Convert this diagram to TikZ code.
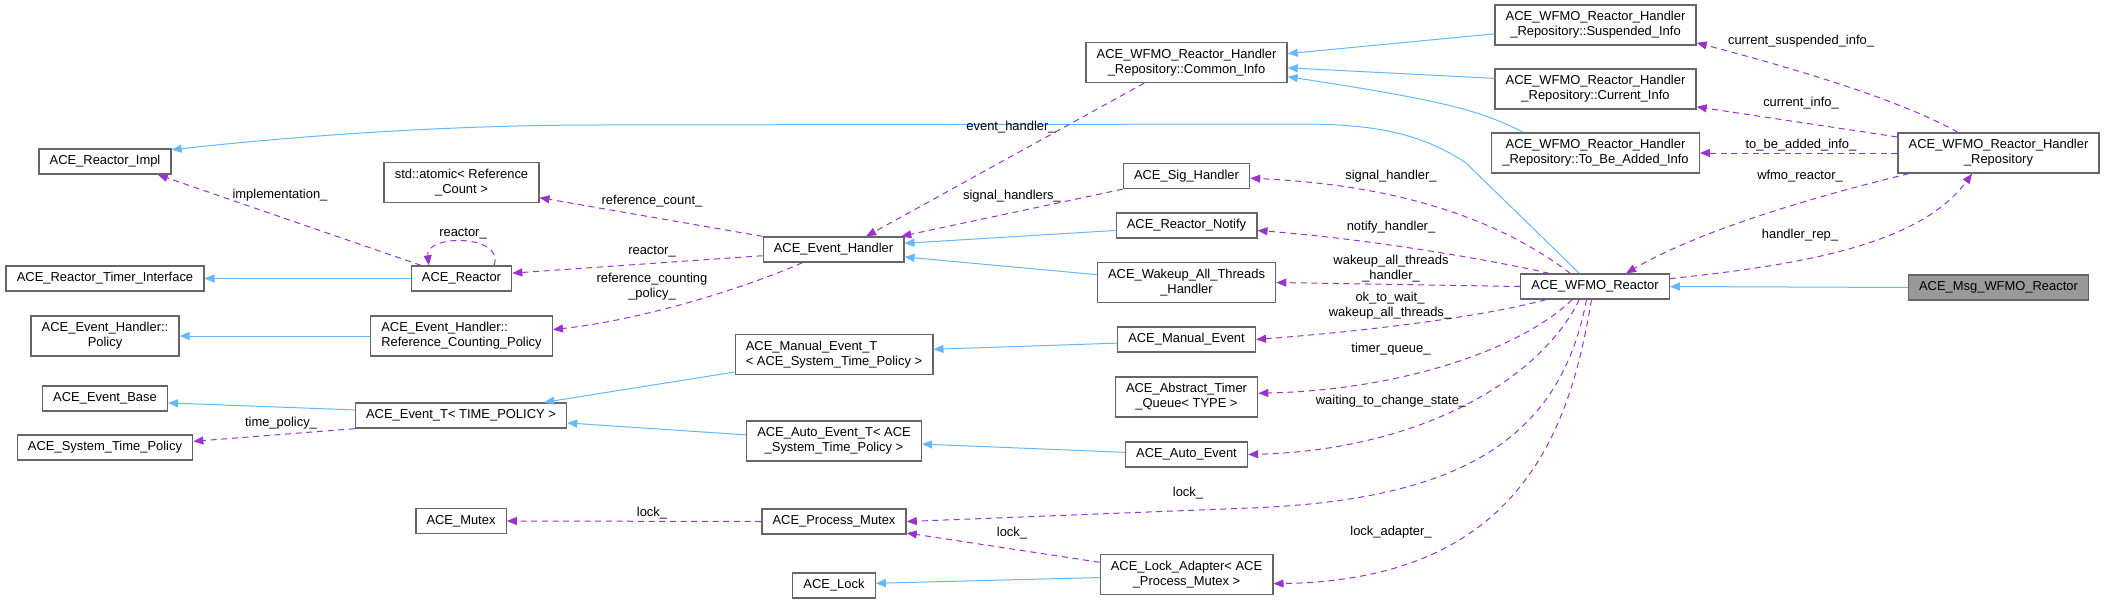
\documentclass[tikz,border=0pt]{standalone}
\usepackage{fontspec}
\setmainfont{Liberation Sans}
\usetikzlibrary{arrows.meta}

\definecolor{inhblue}{HTML}{63B8FF}
\definecolor{usepurple}{HTML}{9A32CD}
\definecolor{boxgray}{HTML}{666666}
\definecolor{focusfill}{HTML}{999999}

\tikzset{every picture/.style={line width=0.75pt}}

\begin{document}
\begin{tikzpicture}[x=0.75pt,y=0.75pt,yscale=-1,
  cls/.style={draw=boxgray,line width=1pt,fill=white,inner xsep=8pt,inner ysep=3pt,minimum height=18.75pt,font=\fontsize{9.7}{11.25}\selectfont,align=center},
  clstwo/.style={cls,minimum height=30pt},
  focus/.style={cls,fill=focusfill},
  inherit/.style={draw=inhblue,-{Triangle[length=7.5pt,width=6pt]}},
  uses/.style={draw=usepurple,dash pattern=on 4.5pt off 3.5pt,-{Triangle[length=7.5pt,width=6pt]}},
  lbl/.style={inner sep=0pt,font=\fontsize{9.7}{11.25}\selectfont,align=center}]
%set diagram size
\useasboundingbox (0,0) rectangle (2105,603);

% Text Node
\node[cls] (impl) at (105,161.5) {ACE\_Reactor\_Impl};
% Text Node
\node[cls] (timerif) at (105,278.5) {ACE\_Reactor\_Timer\_Interface};
% Text Node
\node[clstwo] (policy) at (105,336) {ACE\_Event\_Handler::\\Policy};
% Text Node
\node[cls] (eventbase) at (105,398.5) {ACE\_Event\_Base};
% Text Node
\node[cls] (stpolicy) at (105,447.5) {ACE\_System\_Time\_Policy};
% Text Node
\node[clstwo] (atomic) at (461.5,182.5) {std::atomic< Reference\\\_Count >};
% Text Node
\node[cls] (reactor) at (461.5,278.5) {ACE\_Reactor};
% Text Node
\node[clstwo,align=left] (rcpolicy) at (461.5,336) {ACE\_Event\_Handler::\\Reference\_Counting\_Policy};
% Text Node
\node[cls] (eventt) at (461,415.5) {ACE\_Event\_T< TIME\_POLICY >};
% Text Node
\node[cls] (mutex) at (461,521) {ACE\_Mutex};
% Text Node
\node[cls] (evhandler) at (833.5,249.5) {ACE\_Event\_Handler};
% Text Node
\node[clstwo,align=left] (manualt) at (834,354.5) {ACE\_Manual\_Event\_T\\< ACE\_System\_Time\_Policy >};
% Text Node
\node[clstwo] (autot) at (834,441) {ACE\_Auto\_Event\_T< ACE\\\_System\_Time\_Policy >};
% Text Node
\node[cls] (procmutex) at (834,521.5) {ACE\_Process\_Mutex};
% Text Node
\node[cls] (lock) at (834,585.5) {ACE\_Lock};
% Text Node
\node[clstwo] (commoninfo) at (1186.5,62.5) {ACE\_WFMO\_Reactor\_Handler\\\_Repository::Common\_Info};
% Text Node
\node[cls] (sighandler) at (1186.5,176) {ACE\_Sig\_Handler};
% Text Node
\node[cls] (notify) at (1186.5,225.5) {ACE\_Reactor\_Notify};
% Text Node
\node[clstwo] (wakeup) at (1186.5,282.5) {ACE\_Wakeup\_All\_Threads\\\_Handler};
% Text Node
\node[cls] (manualev) at (1186.5,339.5) {ACE\_Manual\_Event};
% Text Node
\node[clstwo] (timerq) at (1186.5,397) {ACE\_Abstract\_Timer\\\_Queue< TYPE >};
% Text Node
\node[cls] (autoev) at (1186.5,454.5) {ACE\_Auto\_Event};
% Text Node
\node[clstwo] (lockadapter) at (1186.5,574.5) {ACE\_Lock\_Adapter< ACE\\\_Process\_Mutex >};
% Text Node
\node[clstwo] (suspended) at (1595.5,25) {ACE\_WFMO\_Reactor\_Handler\\\_Repository::Suspended\_Info};
% Text Node
\node[clstwo] (current) at (1595.5,89) {ACE\_WFMO\_Reactor\_Handler\\\_Repository::Current\_Info};
% Text Node
\node[clstwo] (tobeadded) at (1595.5,153) {ACE\_WFMO\_Reactor\_Handler\\\_Repository::To\_Be\_Added\_Info};
% Text Node
\node[cls] (wfmo) at (1595,286.5) {ACE\_WFMO\_Reactor};
% Text Node
\node[clstwo] (handlerrep) at (1998.5,153) {ACE\_WFMO\_Reactor\_Handler\\\_Repository};
% Text Node
\node[focus] (msgwfmo) at (1998.5,287.5) {ACE\_Msg\_WFMO\_Reactor};

%Straight Lines
\draw[inherit] (reactor.west) -- (timerif.east);
%Straight Lines
\draw[inherit] (rcpolicy.west) -- (policy.east);
%Straight Lines
\draw[inherit] (eventt.177) -- (eventbase.-4);
%Straight Lines
\draw[inherit] (manualt.190) -- (eventt.9);
%Straight Lines
\draw[inherit] (autot.176) -- (eventt.-4.5);
%Straight Lines
\draw[inherit] (manualev.183) -- (manualt.3);
%Straight Lines
\draw[inherit] (autoev.178) -- (autot.-2);
%Straight Lines
\draw[inherit] (lockadapter.182) -- (lock.3);
%Straight Lines
\draw[inherit] (notify.184) -- (evhandler.5);
%Straight Lines
\draw[inherit] (wakeup.175) -- (evhandler.-6);
%Straight Lines
\draw[inherit] (suspended.185) -- (commoninfo.5);
%Straight Lines
\draw[inherit] (current.174) -- (commoninfo.-3);
%Curve Lines
\draw[inherit] (tobeadded.164) .. controls (1480,110) and (1440,100) .. (commoninfo.-8);
%Straight Lines
\draw[inherit] (msgwfmo.west) -- (wfmo.east);
%Curve Lines
\draw[inherit] (wfmo.140) -- (1466,163) .. controls (1420,132) and (1370,124) .. (1300,124) -- (600,125) .. controls (420,125) and (260,140) .. (impl.10);

%Straight Lines
\draw[uses] (reactor.162) -- (impl.-14);
%Curve Lines
\draw[uses] (reactor.22) .. controls (505,234) and (425,234) .. (reactor.158);
%Straight Lines
\draw[uses] (evhandler.north west) -- (atomic.-11);
%Straight Lines
\draw[uses] (evhandler.185) -- (reactor.6);
%Curve Lines
\draw[uses] (evhandler.203) .. controls (740,290) and (640,320) .. (rcpolicy.4);
%Straight Lines
\draw[uses] (commoninfo.206) -- (evhandler.22);
%Straight Lines
\draw[uses] (sighandler.south west) -- (evhandler.11);
%Straight Lines
\draw[uses] (eventt.south west) -- (stpolicy.4);
%Straight Lines
\draw[uses] (procmutex.west) -- (mutex.east);
%Straight Lines
\draw[uses] (lockadapter.172) -- (procmutex.-9);
%Curve Lines
\draw[uses] (wfmo.152) .. controls (1500,220) and (1400,185) .. (sighandler.-2);
%Curve Lines
\draw[uses] (wfmo.164) .. controls (1500,262) and (1380,240) .. (notify.-4);
%Straight Lines
\draw[uses] (wfmo.west) -- (wakeup.east);
%Curve Lines
\draw[uses] (wfmo.195) .. controls (1490,315) and (1380,330) .. (manualev.east);
%Curve Lines
\draw[uses] (wfmo.210) .. controls (1520,350) and (1400,390) .. (timerq.3);
%Curve Lines
\draw[uses] (wfmo.220) .. controls (1540,380) and (1420,450) .. (autoev.east);
%Curve Lines
\draw[uses] (wfmo.237) .. controls (1560,440) and (1460,500) .. (1250,508) -- (procmutex.east);
%Curve Lines
\draw[uses] (wfmo.255) .. controls (1570,430) and (1520,580) .. (lockadapter.-6);
%Curve Lines
\draw[uses] (handlerrep.153) .. controls (1900,100) and (1800,70) .. (suspended.-10);
%Straight Lines
\draw[uses] (handlerrep.171) -- (current.-10);
%Straight Lines
\draw[uses] (handlerrep.west) -- (tobeadded.east);
%Curve Lines
\draw[uses] (handlerrep.193) .. controls (1820,195) and (1700,230) .. (wfmo.23);
%Curve Lines
\draw[uses] (wfmo.6) .. controls (1800,265) and (1920,245) .. (handlerrep.218);

% Text Node
\node[lbl] (limpl) at (280,195) {implementation\_};
% Text Node
\node[lbl] (lreactorself) at (463,234) {reactor\_};
% Text Node
\node[lbl] (lrefcount) at (652,201) {reference\_count\_};
% Text Node
\node[lbl] (lreactor) at (652,252) {reactor\_};
% Text Node
\node[lbl] (lrcpolicy) at (652,287) {reference\_counting\\\_policy\_};
% Text Node
\node[lbl] (levhandler) at (1011,127) {event\_handler\_};
% Text Node
\node[lbl] (lsighandlers) at (1012,196) {signal\_handlers\_};
% Text Node
\node[lbl] (ltimepolicy) at (281,423) {time\_policy\_};
% Text Node
\node[lbl] (lmutex) at (652,513) {lock\_};
% Text Node
\node[lbl] (lprocmutex) at (1012,533) {lock\_};
% Text Node
\node[lbl] (lsighandler) at (1391,176) {signal\_handler\_};
% Text Node
\node[lbl] (lnotify) at (1391,227) {notify\_handler\_};
% Text Node
\node[lbl] (lwakeup) at (1391,268.5) {wakeup\_all\_threads\\\_handler\_};
% Text Node
\node[lbl] (lmanualev) at (1390,306) {ok\_to\_wait\_\\wakeup\_all\_threads\_};
% Text Node
\node[lbl] (ltimerq) at (1391,349) {timer\_queue\_};
% Text Node
\node[lbl] (lautoev) at (1391,401) {waiting\_to\_change\_state\_};
% Text Node
\node[lbl] (llock) at (1188,493) {lock\_};
% Text Node
\node[lbl] (llockadapter) at (1391,532) {lock\_adapter\_};
% Text Node
\node[lbl] (lsuspended) at (1801,41) {current\_suspended\_info\_};
% Text Node
\node[lbl] (lcurrent) at (1801,103) {current\_info\_};
% Text Node
\node[lbl] (ltobeadded) at (1801,145) {to\_be\_added\_info\_};
% Text Node
\node[lbl] (lwfmoreactor) at (1800,176) {wfmo\_reactor\_};
% Text Node
\node[lbl] (lhandlerrep) at (1800,235) {handler\_rep\_};
\end{tikzpicture}
\end{document}
